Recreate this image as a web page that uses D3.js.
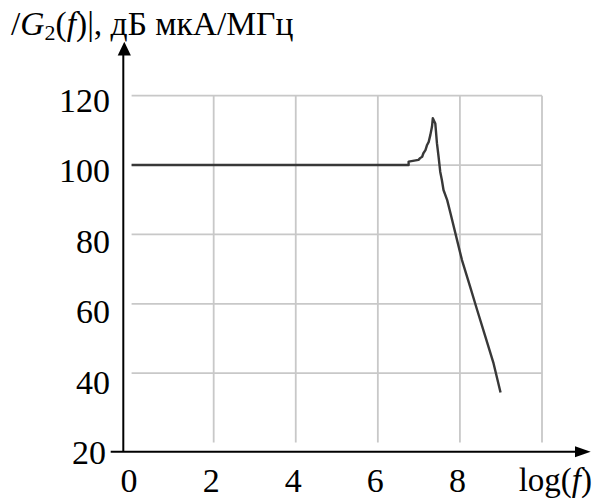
<!DOCTYPE html>
<html>
<head>
<meta charset="utf-8">
<script src="https://cdn.jsdelivr.net/npm/d3@7"></script>
<style>
  html, body { margin: 0; padding: 0; background: #fff; }
  text { font-family: "Liberation Serif", "Times New Roman", serif; fill: #000; }
</style>
</head>
<body>
<div id="chart"></div>
<script>
// spectrum |G2(f)| in dB mkA/MHz vs log(f)
const logF = [0, 6.75, 6.75, 6.99, 7.03, 7.08, 7.11, 7.16, 7.20, 7.24, 7.28, 7.32, 7.34,
    7.40, 7.44, 7.48, 7.52, 7.56, 7.60, 7.69, 7.77, 7.89, 8.05, 8.25, 8.42, 8.62, 8.82, 8.99];
const g2dB = [100, 100, 101, 101.5, 102, 102.4, 103.4, 104.3, 105.8, 106.7, 108.7, 111.1, 113.5,
    112, 106.3, 102.4, 98.1, 95.7, 92.8, 89.9, 86.1, 80.3, 72.6, 64.9, 58.2, 50.5, 42.8, 34.4];

const xTicks = [0, 2, 4, 6, 8];
const yTicks = [20, 40, 60, 80, 100, 120];
const gridX = [2, 4, 6, 8, 10];
const gridY = [40, 60, 80, 100, 120];

const W = 595, H = 499;

const svg = d3.select('#chart').append('svg')
    .attr('width', W)
    .attr('height', H);

svg.append('rect').attr('width', W).attr('height', H).attr('fill', '#fff');

// plot box (grid + curve)
const x = d3.scaleLinear().domain([0, 10]).range([131.6, 542]);
const y = d3.scaleLinear().domain([20, 120]).range([442.5, 95.7]);
// the axes are drawn a bit outside the box, like in the original figure
const yAxisScale = d3.scaleLinear().domain([20, 120]).range([452, 100]);
const axisX = 123.3, axisY = 451.7;

// grid
svg.append('g')
    .selectAll('line')
    .data(gridY)
    .enter()
    .append('line')
    .attr('x1', x(0))
    .attr('x2', x(10))
    .attr('y1', d => y(d))
    .attr('y2', d => y(d))
    .attr('stroke', '#c8c8c8')
    .attr('stroke-width', 1.8);

svg.append('g')
    .selectAll('line')
    .data(gridX)
    .enter()
    .append('line')
    .attr('x1', d => x(d))
    .attr('x2', d => x(d))
    .attr('y1', y(120))
    .attr('y2', y(20))
    .attr('stroke', '#c8c8c8')
    .attr('stroke-width', 1.8);

// curve
const line = d3.line()
    .x((d, i) => x(logF[i]))
    .y(d => y(d));

svg.append('path')
    .datum(g2dB)
    .attr('d', line)
    .attr('fill', 'none')
    .attr('stroke', '#383838')
    .attr('stroke-width', 2.4)
    .attr('stroke-linejoin', 'round');

// axes with arrows
svg.append('line')
    .attr('x1', axisX).attr('x2', axisX)
    .attr('y1', axisY).attr('y2', 54)
    .attr('stroke', '#000').attr('stroke-width', 2);
svg.append('path')
    .attr('d', `M${axisX + 1},41.7 L${axisX - 5.6},55.5 L${axisX + 7.6},55.5 Z`)
    .attr('fill', '#000');

svg.append('line')
    .attr('x1', 110.7).attr('x2', 577)
    .attr('y1', axisY).attr('y2', axisY)
    .attr('stroke', '#000').attr('stroke-width', 2);
svg.append('path')
    .attr('d', `M590.7,${axisY} L575,${axisY - 5.5} L575,${axisY + 5.5} Z`)
    .attr('fill', '#000');

// tick labels
svg.append('g')
    .selectAll('text')
    .data(yTicks)
    .enter()
    .append('text')
    .attr('x', d => d === 20 ? 106 : 110)
    .attr('y', d => yAxisScale(d))
    .attr('dy', '0.35em')
    .attr('text-anchor', 'end')
    .attr('font-size', 34)
    .text(d => d);

svg.append('g')
    .selectAll('text')
    .data(xTicks)
    .enter()
    .append('text')
    .attr('x', d => x(d) - 2.5)
    .attr('y', 492)
    .attr('text-anchor', 'middle')
    .attr('font-size', 34)
    .text(d => d);

// axis titles
const xTitle = svg.append('text')
    .attr('x', 592)
    .attr('y', 491)
    .attr('text-anchor', 'end')
    .attr('font-size', 33);
xTitle.append('tspan').text('log(');
xTitle.append('tspan').attr('font-style', 'italic').text('f');
xTitle.append('tspan').text(')');

const yTitle = svg.append('text')
    .attr('x', 11)
    .attr('y', 35)
    .attr('font-size', 33.5);
yTitle.append('tspan').text('/');
yTitle.append('tspan').attr('font-style', 'italic').text('G');
yTitle.append('tspan').attr('font-size', 22).attr('dy', 5).text('2');
yTitle.append('tspan').attr('dy', -5).text('(');
yTitle.append('tspan').attr('font-style', 'italic').text('f');
yTitle.append('tspan').text(')|, дБ мкА/МГц');
</script>
</body>
</html>
